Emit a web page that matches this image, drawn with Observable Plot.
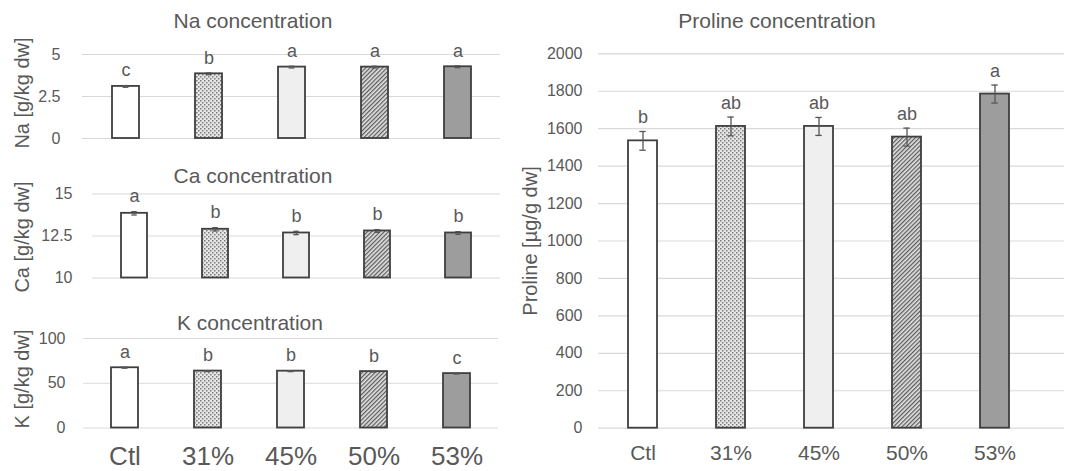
<!DOCTYPE html>
<html>
<head>
<meta charset="utf-8">
<script src="https://cdn.jsdelivr.net/npm/d3@7"></script>
<script src="https://cdn.jsdelivr.net/npm/@observablehq/plot@0.6"></script>
<style>
  html, body { margin: 0; padding: 0; background: white; }
  #wrap { position: relative; width: 1070px; height: 471px; overflow: hidden; }
  #wrap svg { position: absolute; left: 0; top: 0; }
</style>
</head>
<body>
<div id="wrap"></div>
<script>
// ---- data ----
const categories = ["Ctl", "31%", "45%", "50%", "53%"];

const naValues = [3.1, 3.85, 4.25, 4.25, 4.27];
const naErrors = [0.05, 0.05, 0.05, 0.05, 0.05];
const naLetters = ["c", "b", "a", "a", "a"];
const naTicks = [0, 2.5, 5];

const caValues = [13.85, 12.9, 12.68, 12.8, 12.68];
const caErrors = [0.1, 0.1, 0.1, 0.08, 0.08];
const caLetters = ["a", "b", "b", "b", "b"];
const caTicks = [10, 12.5, 15];

const kValues = [67.3, 63.6, 63.5, 63.0, 60.8];
const kErrors = [0.5, 0.5, 0.5, 0.5, 0.5];
const kLetters = ["a", "b", "b", "b", "c"];
const kTicks = [0, 50, 100];

const prolineValues = [1535, 1612, 1612, 1555, 1785];
const prolineErrors = [50, 50, 48, 48, 48];
const prolineLetters = ["b", "ab", "ab", "ab", "a"];
const prolineTicks = [0, 200, 400, 600, 800, 1000, 1200, 1400, 1600, 1800, 2000];

const fills = ["#ffffff", "url(#dots)", "#efefef", "url(#hatch)", "#9d9d9d"];

const FONT = "'Liberation Sans', Arial, Helvetica, sans-serif";
const GRAY = "#595959";
const P = 0.675;

const wrap = document.getElementById("wrap");

// pattern definitions
const defs = d3.create("svg").attr("width", 0).attr("height", 0);
const d = defs.append("defs");
const dots = d.append("pattern").attr("id", "dots").attr("patternUnits", "userSpaceOnUse")
  .attr("width", 4).attr("height", 4);
dots.append("rect").attr("width", 4).attr("height", 4).attr("fill", "#e6e6e6");
dots.append("rect").attr("x", 0).attr("y", 0).attr("width", 1.5).attr("height", 1.5).attr("fill", "#7a7a7a");
dots.append("rect").attr("x", 2).attr("y", 2).attr("width", 1.5).attr("height", 1.5).attr("fill", "#7a7a7a");
const hatch = d.append("pattern").attr("id", "hatch").attr("patternUnits", "userSpaceOnUse")
  .attr("width", 3).attr("height", 3).attr("patternTransform", "rotate(45)");
hatch.append("rect").attr("width", 3).attr("height", 3).attr("fill", "#e2e2e2");
hatch.append("line").attr("x1", 0.6).attr("y1", 0).attr("x2", 0.6).attr("y2", 3)
  .attr("stroke", "#5a5a5a").attr("stroke-width", 1.3);
wrap.appendChild(defs.node());

function panel({values, errors, letters, ticks, domain, base, ml, mr, mt, mb, tickPad,
                xAxis = false, xFont = 16, xPad = 10, range, letterFont = 18, letterDy = -15}) {
  const data = categories.map((c, i) => ({
    cat: c, v: values[i], e: errors[i], letter: letters[i], base
  }));
  const x0 = range ? range[0] : ml;
  const x1 = range ? range[1] : 1070 - mr;
  const step = (x1 - x0) / categories.length;
  const bw = step * (1 - P);
  const inset = (bw - 6) / 2;
  const marks = [
    Plot.ruleY(ticks, {stroke: "#d9d9d9", strokeWidth: 1.2}),
    Plot.barY(data, {x: "cat", y1: "base", y2: "v", fill: "cat", stroke: "#3f3f3f", strokeWidth: 1.8}),
    Plot.ruleX(data, {x: "cat", y1: r => r.v - r.e, y2: r => r.v + r.e, stroke: "#555", strokeWidth: 1.3}),
    Plot.tickY(data, {x: "cat", y: r => r.v + r.e, stroke: "#555", strokeWidth: 1.3, insetLeft: inset, insetRight: inset}),
    Plot.tickY(data, {x: "cat", y: r => r.v - r.e, stroke: "#555", strokeWidth: 1.3, insetLeft: inset, insetRight: inset}),
    Plot.text(data, {x: "cat", y: r => r.v + r.e, text: "letter", dy: letterDy, fontSize: letterFont, fill: GRAY}),
    Plot.axisY({ticks, tickSize: 0, tickPadding: tickPad, tickFormat: t => `${t}`, fontSize: 16, label: null, fill: GRAY})
  ];
  if (xAxis) marks.push(Plot.axisX({tickSize: 0, tickPadding: xPad, fontSize: xFont, label: null, fill: GRAY}));
  const xOpts = {domain: categories, paddingInner: P, paddingOuter: P / 2, axis: null};
  if (range) xOpts.range = range;
  return Plot.plot({
    width: 1070, height: 471,
    marginLeft: ml, marginRight: mr, marginTop: mt, marginBottom: mb,
    style: {fontFamily: FONT, fontSize: "16px", color: GRAY, background: "transparent", overflow: "visible"},
    x: xOpts,
    y: {domain, axis: null},
    color: {domain: categories, range: fills},
    marks
  });
}

wrap.appendChild(panel({values: naValues, errors: naErrors, letters: naLetters, ticks: naTicks,
  domain: [0, 5], base: 0, ml: 82, mr: 570, mt: 54, mb: 333, tickPad: 22}));
wrap.appendChild(panel({values: caValues, errors: caErrors, letters: caLetters, ticks: caTicks,
  domain: [10, 15], base: 10, ml: 92, mr: 570, mt: 193.5, mb: 193.5, tickPad: 20}));
wrap.appendChild(panel({values: kValues, errors: kErrors, letters: kLetters, ticks: kTicks,
  domain: [0, 100], base: 0, ml: 83, mr: 572, mt: 338, mb: 43.5, tickPad: 18,
  xAxis: true, xFont: 26, xPad: 19}));
wrap.appendChild(panel({values: prolineValues, errors: prolineErrors, letters: prolineLetters, ticks: prolineTicks,
  domain: [0, 2000], base: 0, ml: 598, mr: 6, mt: 53.3, mb: 43.3, tickPad: 16,
  xAxis: true, xFont: 21, xPad: 17, range: [598, 1038], letterDy: -14}));

// titles and axis labels
const titles = [
  {text: "Na concentration", x: 253, y: 28},
  {text: "Ca concentration", x: 253, y: 183},
  {text: "K concentration", x: 250, y: 330},
  {text: "Proline concentration", x: 777, y: 28}
];
const yLabels = [
  {text: "Na [g/kg dw]", x: 29, y: 93},
  {text: "Ca [g/kg dw]", x: 29, y: 237},
  {text: "K [g/kg dw]", x: 29, y: 379},
  {text: "Proline [µg/g dw]", x: 537, y: 241}
];
const ov = d3.create("svg").attr("width", 1070).attr("height", 471)
  .style("font-family", FONT).style("pointer-events", "none");
ov.selectAll("text.t").data(titles).join("text")
  .attr("x", t => t.x).attr("y", t => t.y).attr("text-anchor", "middle")
  .attr("font-size", 21).attr("fill", GRAY).text(t => t.text);
ov.selectAll("text.l").data(yLabels).join("text")
  .attr("transform", t => `translate(${t.x},${t.y}) rotate(-90)`)
  .attr("text-anchor", "middle").attr("font-size", 20).attr("fill", GRAY).text(t => t.text);
wrap.appendChild(ov.node());
</script>
</body>
</html>
